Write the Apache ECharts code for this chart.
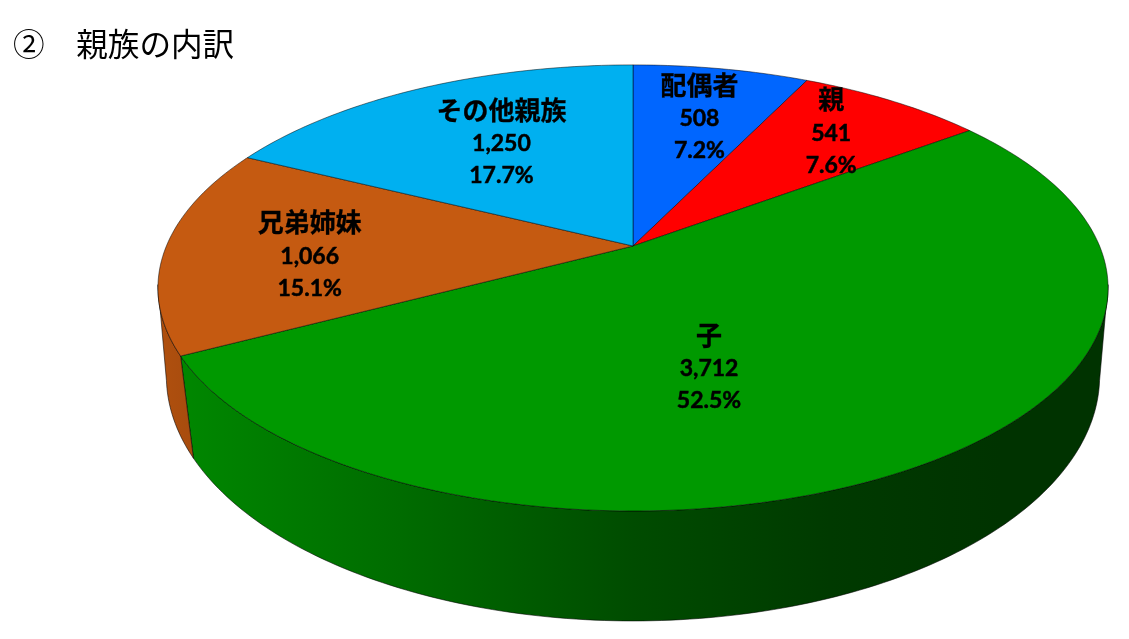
<!DOCTYPE html>
<html>
<head>
<meta charset="utf-8">
<style>html,body{margin:0;padding:0;background:#fff}#c{width:1129px;height:639px}</style>
<script src="https://cdn.jsdelivr.net/npm/echarts@6/dist/echarts.min.js"></script>
</head>
<body>
<div id="c"></div>
<script>
const titleText = '②　親族の内訳';
const categories = ['配偶者', '親', '子', '兄弟姉妹', 'その他親族'];
const values = [508, 541, 3712, 1066, 1250];

const topColors = ['#0066FF', '#FF0000', '#009900', '#C55A11', '#00B0F0'];
const sideStops = {
  2: [[190, '#008600'], [400, '#006c00'], [633, '#004c00'], [830, '#003a00'], [1000, '#003300'], [1108, '#003300']],
  3: [[158, '#b0500e'], [192, '#a84c0e']]
};
// Perspective projection of a disc: top face and bottom face
const topFace = {cx: 633, d: 466.6, a: 168.9, b: 246, c: -0.188};
const botFace = {cx: 633, d: 461, a: 186.7, b: 338, c: -0.155};
const visibleFrom = 100, visibleTo = 260;
const labelRadius = 0.6;
const labelOffsets = [[10,-16],[34,-23],[-89,0],[-43,7],[3,-4]];

const total = values.reduce((s, v) => s + v, 0);
const starts = [];
values.reduce((s, v, i) => { starts[i] = s; return s + v; }, 0);
const deg = v => v / total * 360;

function project(face, angle, r) {
  const t = angle * Math.PI / 180;
  const u = r * Math.sin(t), v = -r * Math.cos(t);
  const w = 1 + face.c * v;
  return [face.cx + face.d * u / w, (face.a * v + face.b) / w];
}
const edge = 'rgba(0,0,0,0.7)';

function renderSide(params) {
  const i = params.dataIndex;
  const stops = sideStops[i];
  if (!stops) return {type: 'group', children: []};
  const a0 = Math.max(deg(starts[i]), visibleFrom);
  const a1 = Math.min(deg(starts[i]) + deg(values[i]), visibleTo);
  const xa = stops[0][0], xb = stops[stops.length - 1][0];
  const topArc = [], botArc = [];
  for (let a = a0; a < a1; a += 1) { topArc.push(project(topFace, a, 1)); botArc.push(project(botFace, a, 1)); }
  topArc.push(project(topFace, a1, 1)); botArc.push(project(botFace, a1, 1));
  const pts = topArc.concat(botArc.slice().reverse());
  return {type: 'polygon', shape: {points: pts}, silent: true,
    style: {
      fill: {type: 'linear', global: true, x: xa, y: 0, x2: xb, y2: 0,
        colorStops: stops.map(s => ({offset: (s[0] - xa) / (xb - xa), color: s[1]}))},
      stroke: edge, lineWidth: 0.8
    }};
}

function renderTop(params) {
  const i = params.dataIndex;
  const a0 = deg(starts[i]), a1 = a0 + deg(values[i]);
  const pts = [project(topFace, 0, 0)];
  for (let a = a0; a < a1; a += 1) pts.push(project(topFace, a, 1));
  pts.push(project(topFace, a1, 1));
  return {type: 'polygon', shape: {points: pts}, style: {fill: topColors[i], stroke: edge, lineWidth: 0.7}, silent: true};
}

function renderLabel(params) {
  const i = params.dataIndex;
  const mid = deg(starts[i]) + deg(values[i]) / 2;
  const p = project(topFace, mid, labelRadius);
  const o = labelOffsets[i];
  const pct = (values[i] / total * 100).toFixed(1) + '%';
  const num = values[i].toLocaleString('en-US');
  return {type: 'text', x: p[0] + o[0], y: p[1] + o[1], silent: true,
    style: {
      text: '{n|' + categories[i] + '}\n{v|' + num + '}\n{v|' + pct + '}',
      align: 'center', verticalAlign: 'middle',
      rich: {
        n: {fontFamily: '"Noto Sans CJK JP"', fontWeight: 'bold', fontSize: 26, lineHeight: 36, fill: '#000', align: 'center', stroke: '#000', lineWidth: 0.3},
        v: {fontFamily: 'Lato, "Noto Sans"', fontWeight: 'bold', fontSize: 23, lineHeight: 32, fill: '#000', align: 'center', stroke: '#000', lineWidth: 0.5}
      }
    }};
}

const data = categories.map((name, i) => ({name, value: values[i]}));
const chart = echarts.init(document.getElementById('c'), null, {renderer: 'canvas'});
chart.setOption({
  animation: false,
  backgroundColor: '#fff',
  title: {text: titleText, left: 13, top: 28, padding: 0,
    textStyle: {fontFamily: '"Noto Sans CJK JP"', fontWeight: 'normal', fontSize: 31.6, color: '#000'}},
  tooltip: {show: false},
  series: [
    {type: 'custom', coordinateSystem: 'none', renderItem: renderSide, data, z: 1, silent: true},
    {type: 'custom', coordinateSystem: 'none', renderItem: renderTop, data, z: 2, silent: true},
    {type: 'custom', coordinateSystem: 'none', renderItem: renderLabel, data, z: 3, silent: true}
  ]
});
</script>
</body>
</html>
